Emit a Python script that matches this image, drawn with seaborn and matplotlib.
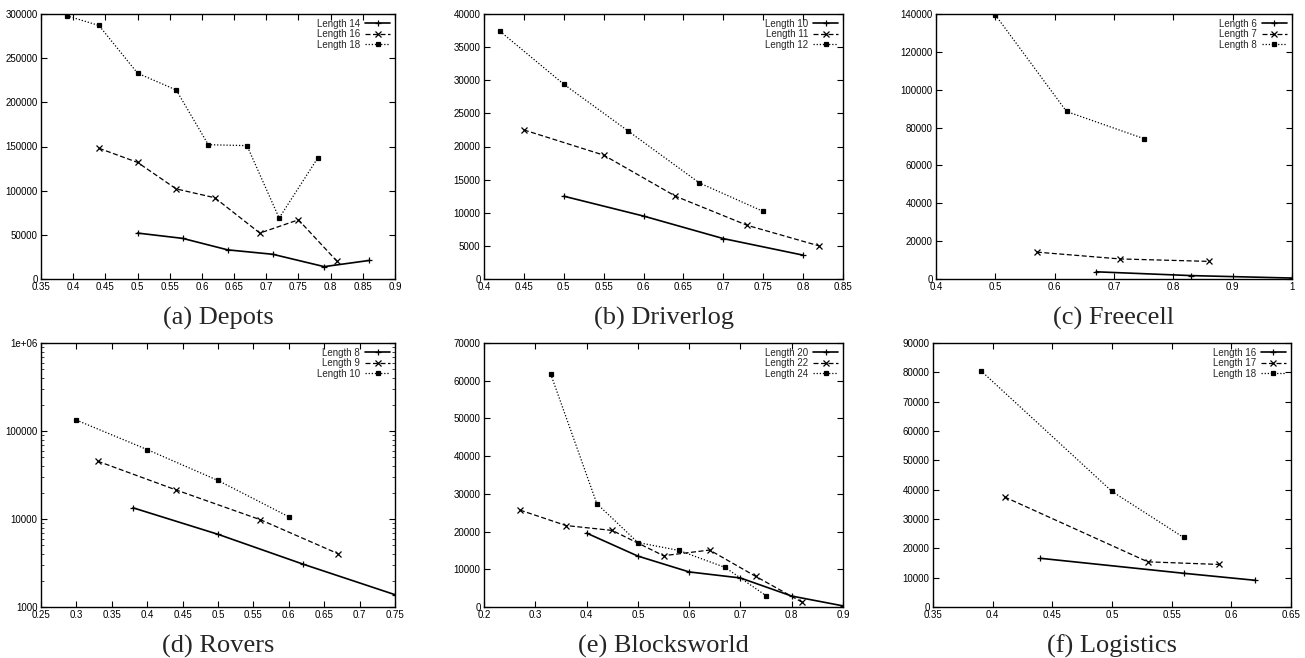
import numpy as np
import pandas as pd
import matplotlib
matplotlib.use("Agg")
import matplotlib.pyplot as plt
import matplotlib.ticker as mticker
import seaborn as sns

# (a) Depots
depots_x14 = [0.50, 0.57, 0.64, 0.71, 0.79, 0.86]
depots_y14 = [52000, 46000, 33000, 28000, 14000, 21000]
depots_x16 = [0.44, 0.50, 0.56, 0.62, 0.69, 0.75, 0.81]
depots_y16 = [148000, 132000, 102000, 92000, 52000, 67000, 20000]
depots_x18 = [0.39, 0.44, 0.50, 0.56, 0.61, 0.67, 0.72, 0.78]
depots_y18 = [298000, 287000, 233000, 214000, 152000, 151000, 69000, 137000]

# (b) Driverlog
driver_x10 = [0.50, 0.60, 0.70, 0.80]
driver_y10 = [12500, 9500, 6100, 3600]
driver_x11 = [0.45, 0.55, 0.64, 0.73, 0.82]
driver_y11 = [22500, 18700, 12500, 8100, 5000]
driver_x12 = [0.42, 0.50, 0.58, 0.67, 0.75]
driver_y12 = [37400, 29400, 22400, 14500, 10200]

# (c) Freecell
free_x6 = [0.67, 0.83, 1.00]
free_y6 = [3800, 1800, 500]
free_x7 = [0.57, 0.71, 0.86]
free_y7 = [14200, 10600, 9300]
free_x8 = [0.50, 0.62, 0.75]
free_y8 = [139500, 88500, 74200]

# (d) Rovers
rovers_x8 = [0.38, 0.50, 0.62, 0.75]
rovers_y8 = [13400, 6700, 3070, 1380]
rovers_x9 = [0.33, 0.44, 0.56, 0.67]
rovers_y9 = [45400, 21500, 9800, 4020]
rovers_x10 = [0.30, 0.40, 0.50, 0.60]
rovers_y10 = [133000, 61500, 27400, 10600]

# (e) Blocksworld
blocks_x20 = [0.40, 0.50, 0.60, 0.70, 0.80, 0.90]
blocks_y20 = [19600, 13500, 9300, 7700, 2900, 300]
blocks_x22 = [0.27, 0.36, 0.45, 0.55, 0.64, 0.73, 0.82]
blocks_y22 = [25700, 21600, 20300, 13600, 15100, 8100, 1300]
blocks_x24 = [0.33, 0.42, 0.50, 0.58, 0.67, 0.75]
blocks_y24 = [61800, 27400, 17100, 15000, 10500, 3000]

# (f) Logistics
logi_x16 = [0.44, 0.56, 0.62]
logi_y16 = [16600, 11500, 9100]
logi_x17 = [0.41, 0.53, 0.59]
logi_y17 = [37500, 15400, 14500]
logi_x18 = [0.39, 0.50, 0.56]
logi_y18 = [80600, 39400, 23700]

panels = [
    dict(caption="(a) Depots", labels=["Length 14", "Length 16", "Length 18"],
         xs=[depots_x14, depots_x16, depots_x18], ys=[depots_y14, depots_y16, depots_y18],
         xlim=(0.35, 0.9), xstep=0.05, ylim=(0, 300000), ystep=50000, log=False,
         pos=[41, 14, 354, 265]),
    dict(caption="(b) Driverlog", labels=["Length 10", "Length 11", "Length 12"],
         xs=[driver_x10, driver_x11, driver_x12], ys=[driver_y10, driver_y11, driver_y12],
         xlim=(0.4, 0.85), xstep=0.05, ylim=(0, 40000), ystep=5000, log=False,
         pos=[484, 14, 359, 265]),
    dict(caption="(c) Freecell", labels=["Length 6", "Length 7", "Length 8"],
         xs=[free_x6, free_x7, free_x8], ys=[free_y6, free_y7, free_y8],
         xlim=(0.4, 1.0), xstep=0.1, ylim=(0, 140000), ystep=20000, log=False,
         pos=[936, 14, 356, 265]),
    dict(caption="(d) Rovers", labels=["Length 8", "Length 9", "Length 10"],
         xs=[rovers_x8, rovers_x9, rovers_x10], ys=[rovers_y8, rovers_y9, rovers_y10],
         xlim=(0.25, 0.75), xstep=0.05, ylim=(1000, 1e6), ystep=None, log=True,
         pos=[41, 343, 354, 264]),
    dict(caption="(e) Blocksworld", labels=["Length 20", "Length 22", "Length 24"],
         xs=[blocks_x20, blocks_x22, blocks_x24], ys=[blocks_y20, blocks_y22, blocks_y24],
         xlim=(0.2, 0.9), xstep=0.1, ylim=(0, 70000), ystep=10000, log=False,
         pos=[484, 343, 359, 264]),
    dict(caption="(f) Logistics", labels=["Length 16", "Length 17", "Length 18"],
         xs=[logi_x16, logi_x17, logi_x18], ys=[logi_y16, logi_y17, logi_y18],
         xlim=(0.35, 0.65), xstep=0.05, ylim=(0, 90000), ystep=10000, log=False,
         pos=[933, 343, 358, 264]),
]

sns.set_style("ticks")
plt.rcParams['font.family'] = ['Liberation Sans', 'DejaVu Sans']

W, H = 1305, 658
fig = plt.figure(figsize=(W / 100, H / 100), dpi=100)

# gnuplot-like point/line types
markers = ['+', 'x', 's']
linestyles = ['-', (0, (4, 2)), (0, (1, 1.5))]
widths = [1.2, 0.9, 0.9]
msizes = [5, 4, 3]


def fmt_x(v, _):
    return f"{v:.2f}".rstrip('0').rstrip('.')


for p in panels:
    l, t, w, h = p['pos']
    ax = fig.add_axes([l / W, 1 - (t + h) / H, w / W, h / H])
    for i, (lab, xv, yv) in enumerate(zip(p['labels'], p['xs'], p['ys'])):
        df = pd.DataFrame({'x': xv, 'y': yv})
        sns.lineplot(data=df, x='x', y='y', color='black', marker=markers[i],
                     markersize=msizes[i], markeredgewidth=0.9,
                     markeredgecolor='black', markerfacecolor='black',
                     linestyle=linestyles[i], linewidth=widths[i],
                     estimator=None, sort=False, ax=ax, label=lab)
    if p['log']:
        ax.set_yscale('log')
    ax.set_xlim(*p['xlim'])
    ax.set_ylim(*p['ylim'])
    ax.xaxis.set_major_locator(mticker.MultipleLocator(p['xstep']))
    ax.xaxis.set_major_formatter(mticker.FuncFormatter(fmt_x))
    if p['log']:
        ax.yaxis.set_major_locator(mticker.LogLocator(base=10))
        ax.yaxis.set_minor_locator(mticker.LogLocator(base=10, subs=np.arange(2, 10)))
        ax.yaxis.set_major_formatter(mticker.FuncFormatter(
            lambda v, _: "1e+06" if v >= 1e6 else f"{int(round(v))}"))
        ax.yaxis.set_minor_formatter(mticker.NullFormatter())
    else:
        ax.yaxis.set_major_locator(mticker.MultipleLocator(p['ystep']))
        ax.yaxis.set_major_formatter(mticker.FuncFormatter(lambda v, _: f"{int(round(v))}"))
    ax.set_xlabel('')
    ax.set_ylabel('')
    for sp in ax.spines.values():
        sp.set_visible(True)
        sp.set_linewidth(1.0)
        sp.set_color('black')
    ax.tick_params(which='major', direction='in', length=4, width=0.8,
                   top=True, right=True, labelsize=7, pad=2.5, colors='black')
    ax.tick_params(which='minor', direction='in', length=2, width=0.6,
                   top=False, bottom=False, left=True, right=True)
    handles, labels = ax.get_legend_handles_labels()
    ax.legend(handles, labels, loc='upper right', frameon=False, markerfirst=False,
              fontsize=7, handlelength=2.6, labelspacing=0.05, handletextpad=0.5,
              borderaxespad=0.3, borderpad=0.2)
    cx = (l + w / 2) / W
    cy = 1 - (t + h + 39) / H
    fig.text(cx, cy, p['caption'], ha='center', va='center', fontsize=19,
             family=['Liberation Serif', 'DejaVu Serif'])

fig.savefig('out.png', dpi=100)
